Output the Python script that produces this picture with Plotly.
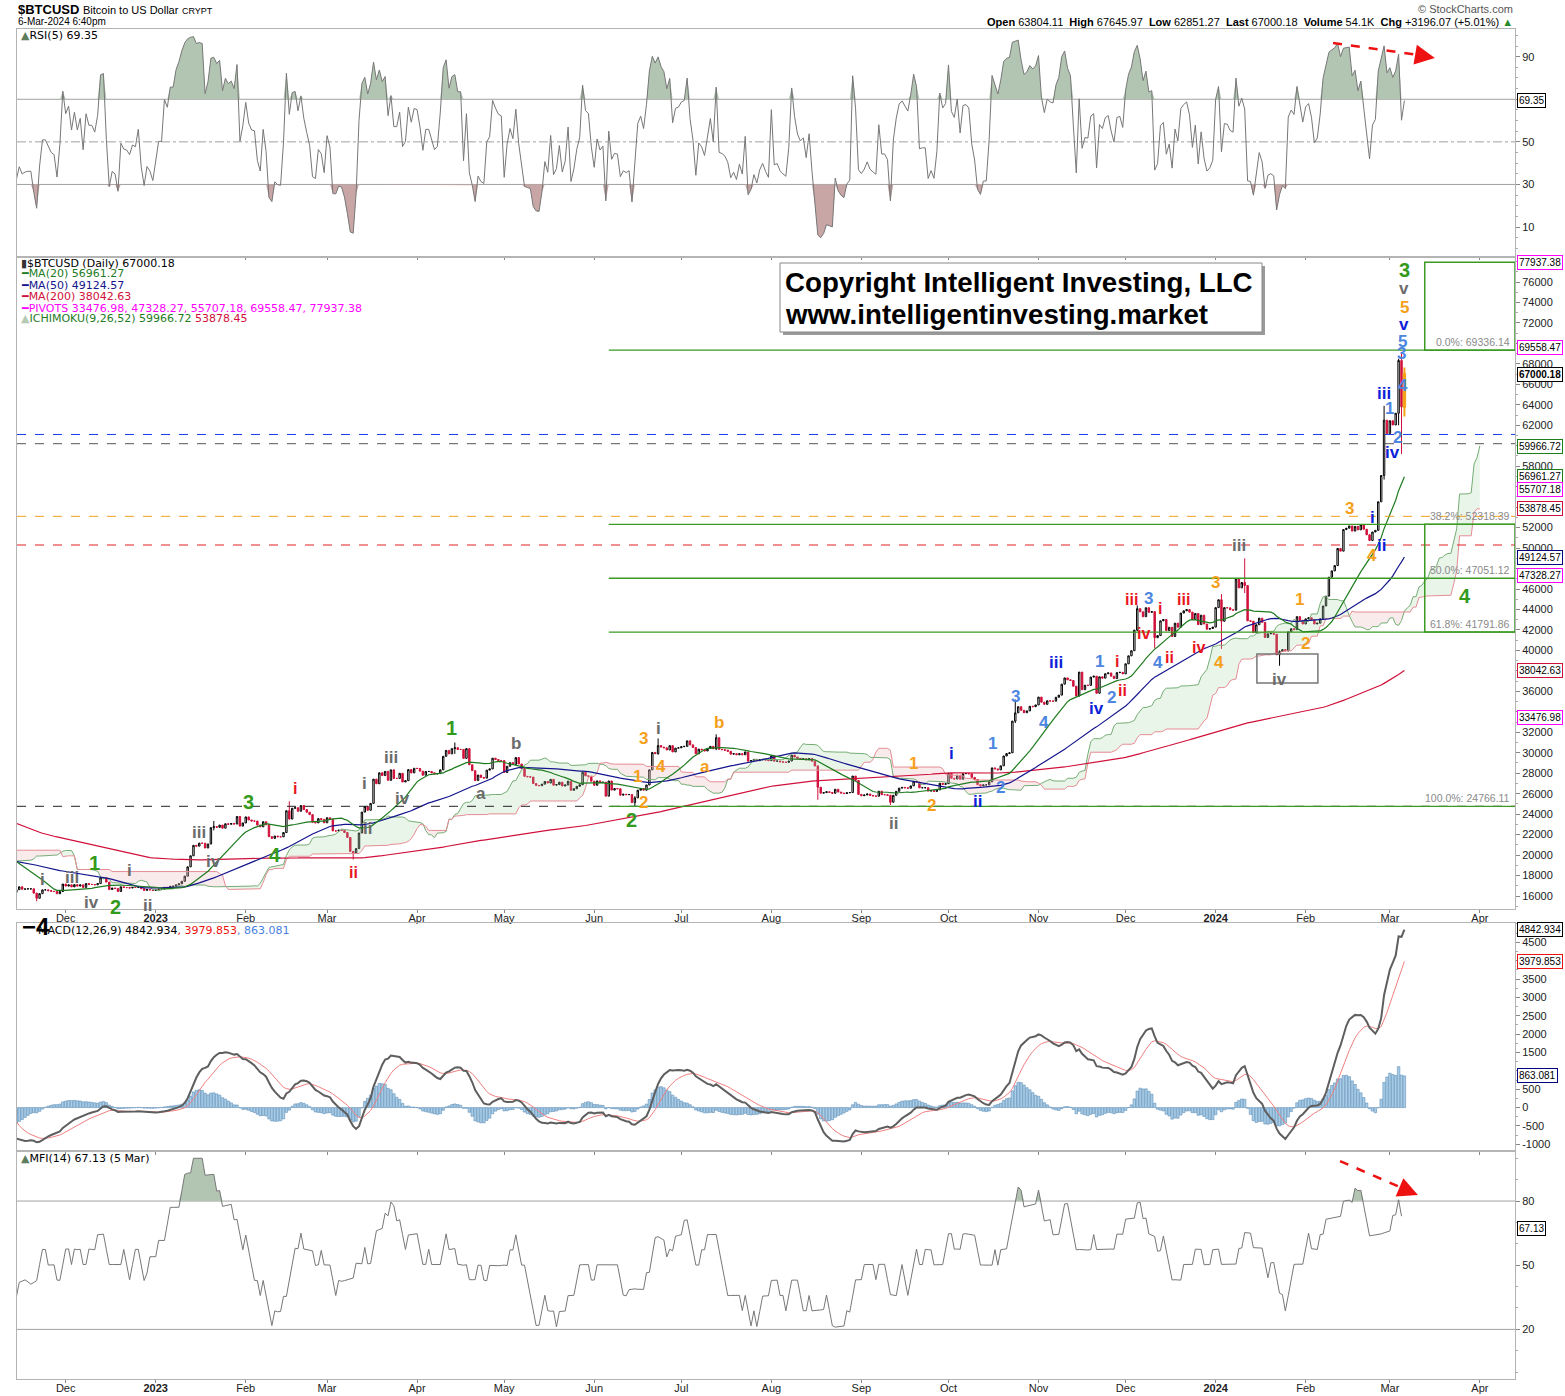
import numpy as np
import pandas as pd
import plotly.graph_objects as go

W, H = 1565, 1396

# ---------------- daily closes (BTC/USD) ----------------
close_2022_04 = [39740, 38600, 37710]  # from Apr 28
close_2022_05 = [38470, 38530, 37750, 39690, 36550, 36010, 35500, 34060, 30300, 31020,
                 28940, 29050, 29280, 30080, 31300, 29860, 30420, 28720, 30310, 29200,
                 29430, 30320, 29100, 29650, 29560, 29270, 28630, 29020, 29450, 31730, 31790]
close_2022_06 = [29800, 30450, 29700, 29860, 29910, 31370, 31130, 30210, 30110, 29080,
                 28420, 26570, 22490, 22210, 22570, 20380, 20470, 19020, 20550, 20700,
                 20030, 19960, 21090, 21230, 21500, 21030, 20730, 20280, 20100, 19780]
close_2022_07 = [19300, 19230, 19300, 20230, 20190, 20550, 21620, 21590, 21590, 20850,
                 19970, 19330, 20210, 20570, 20830, 21190, 20780, 22480, 23390, 23230,
                 23160, 22680, 22450, 22580, 21310, 21250, 22950, 23850, 23800, 23640, 23300]
close_2022_08 = [23270, 22990, 22820, 22620, 23310, 22960, 23180, 23810, 23160, 23950,
                 23940, 24400, 24440, 24310, 24130, 23850, 23340, 23210, 20830, 21160,
                 21530, 21400, 21530, 21370, 21560, 20240, 20040, 19550, 20290, 19800, 20050]
close_2022_09 = [20130, 19950, 19830, 20000, 19800, 18790, 19290, 19320, 21360, 21650,
                 21830, 22400, 20170, 20230, 19700, 19800, 20110, 19420, 19540, 18890,
                 18550, 19410, 19290, 18920, 18800, 19220, 19080, 19410, 19590, 19420]
close_2022_10 = [19310, 19040, 19620, 20340, 20160, 19960, 19530, 19420, 19440, 19130,
                 19060, 19160, 19380, 19190, 19070, 19270, 19550, 19330, 19130, 19040,
                 19170, 19210, 19570, 19330, 20090, 20770, 20290, 20600, 20810, 20630, 20490]
close_2022_11 = [20480, 20160, 20210, 21150, 21300, 20920, 20600, 18540, 15880, 17590,
                 17040, 16800, 16350, 16620, 16900, 16660, 16690, 16700, 16700, 16280,
                 15780, 16230, 16600, 16600, 16520, 16460, 16440, 16220, 16440, 17170]
close_2022_12 = [16970, 17090, 16890, 17110, 16970, 17090, 16840, 17220, 17130, 17130,
                 17090, 17210, 17780, 17810, 17360, 16630, 16780, 16740, 16440, 16900,
                 16830, 16820, 16780, 16840, 16830, 16920, 16710, 16550, 16630, 16600, 16540]
close_2023_01 = [16610, 16670, 16670, 16850, 16830, 16950, 16950, 17090, 17190, 17440,
                 17940, 18850, 19930, 20950, 20870, 21170, 21160, 20690, 21080, 22680,
                 22780, 22710, 22930, 22630, 23060, 23010, 23080, 23030, 23770, 22830, 23140]
close_2023_02 = [23730, 23430, 23330, 23320, 22930, 22760, 23260, 22960, 21800, 21630,
                 21860, 21790, 21780, 22200, 24330, 23520, 24570, 24630, 24280, 24840,
                 24450, 24190, 23950, 23200, 23150, 23560, 23490, 23150]
close_2023_03 = [23650, 23480, 22360, 22350, 22430, 22410, 22200, 21720, 20360, 20190,
                 20630, 22160, 24200, 24750, 24380, 25050, 27420, 26970, 28040, 27770,
                 28180, 27300, 28330, 27490, 27490, 27990, 27140, 27270, 28350, 28030, 28480]
close_2023_04 = [28460, 28200, 27800, 28170, 28170, 28040, 27930, 27960, 28330, 29650,
                 30230, 29890, 30400, 30490, 30320, 30320, 29450, 30400, 28820, 28250,
                 27280, 27820, 27590, 27520, 28300, 28420, 29470, 29340, 29250, 29230]
close_2023_05 = [28070, 28680, 29030, 28850, 29530, 28900, 28450, 27690, 27650, 27620,
                 26990, 26800, 26780, 26930, 27190, 27040, 27400, 26830, 26890, 27120,
                 26750, 26850, 27220, 26330, 26480, 26720, 26870, 28090, 27740, 27700, 27220]
close_2023_06 = [26820, 27250, 27070, 27120, 25760, 27240, 26350, 26500, 26480, 25850,
                 25940, 25900, 25920, 25130, 25590, 26340, 26510, 26340, 26850, 28330,
                 30030, 29910, 30700, 30550, 30480, 30270, 30690, 30080, 30450, 30480]
close_2023_07 = [30590, 30620, 31160, 30770, 30510, 29900, 30350, 30290, 30170, 30410,
                 30620, 30390, 31470, 30330, 30300, 30250, 30140, 29860, 29910, 29800,
                 29910, 29800, 30080, 29180, 29230, 29350, 29220, 29310, 29350, 29280, 29230]
close_2023_08 = [29700, 29180, 29190, 29110, 29080, 29060, 29190, 29770, 29580, 29450,
                 29400, 29420, 29300, 29430, 29170, 28700, 26630, 26050, 26100, 26190,
                 26120, 26040, 26430, 26160, 26060, 26010, 26090, 26110, 27720, 27300, 25930]
close_2023_09 = [25800, 25870, 25970, 25830, 25780, 25750, 26240, 25900, 25900, 25840,
                 25160, 25840, 26230, 26540, 26610, 26570, 26530, 26760, 27210, 27130,
                 26570, 26580, 26580, 26250, 26300, 26220, 26370, 27020, 26910, 26970]
close_2023_10 = [27990, 27500, 27430, 27800, 27410, 27950, 27970, 27940, 27590, 27390,
                 26880, 26760, 26860, 26860, 27160, 28520, 28420, 28330, 28720, 29680,
                 29920, 29990, 33090, 33900, 34500, 34150, 33910, 34090, 34540, 34500, 34670]
close_2023_11 = [35440, 34940, 34730, 35080, 35050, 35040, 35420, 35630, 36700, 37310,
                 37130, 37060, 36500, 35540, 37880, 36160, 36600, 36580, 37390, 37480,
                 35810, 37420, 37290, 37720, 37800, 37480, 37250, 37830, 37860, 37710]
close_2023_12 = [38690, 39470, 39970, 41980, 44080, 43770, 43290, 44170, 43720, 43790,
                 41240, 41450, 42890, 43020, 41940, 42260, 41360, 42660, 42270, 43650,
                 43870, 43990, 43740, 43020, 43610, 42520, 43440, 42580, 42070, 42140, 42280]
close_2024_01 = [44180, 44950, 42850, 44180, 44160, 43970, 43930, 46970, 46110, 46630,
                 46340, 42890, 42850, 41730, 42510, 43150, 42740, 41260, 41620, 41660,
                 41580, 39570, 39900, 40080, 39950, 41820, 42120, 42030, 43300, 42940, 42580]
close_2024_02 = [43080, 43190, 42990, 42580, 42660, 43090, 44340, 45300, 47150, 47770,
                 48290, 49960, 49700, 51810, 51940, 52160, 51660, 52120, 51780, 52280,
                 51840, 51300, 50740, 51570, 51730, 54520, 57090, 62500, 61200]
close_2024_03 = [62440, 62030, 63170, 68330, 63804.11, 67000.18]

month_starts = ["2022-04-28", "2022-05-01", "2022-06-01", "2022-07-01", "2022-08-01",
                "2022-09-01", "2022-10-01", "2022-11-01", "2022-12-01", "2023-01-01",
                "2023-02-01", "2023-03-01", "2023-04-01", "2023-05-01", "2023-06-01",
                "2023-07-01", "2023-08-01", "2023-09-01", "2023-10-01", "2023-11-01",
                "2023-12-01", "2024-01-01", "2024-02-01", "2024-03-01"]
month_closes = [close_2022_04, close_2022_05, close_2022_06, close_2022_07, close_2022_08,
                close_2022_09, close_2022_10, close_2022_11, close_2022_12, close_2023_01,
                close_2023_02, close_2023_03, close_2023_04, close_2023_05, close_2023_06,
                close_2023_07, close_2023_08, close_2023_09, close_2023_10, close_2023_11,
                close_2023_12, close_2024_01, close_2024_02, close_2024_03]

# notable intraday wicks
wick_dates = ["2022-11-21", "2023-01-21", "2023-02-16", "2023-03-10", "2023-04-14",
              "2023-06-15", "2023-06-23", "2023-07-13", "2023-08-17", "2023-09-11",
              "2023-10-24", "2023-12-05", "2023-12-11", "2024-01-03", "2024-01-11",
              "2024-01-23", "2024-02-28", "2024-03-04", "2024-03-05", "2024-03-06"]
wick_highs = [16280, 23330, 25250, 20340, 31000, 25750, 31400, 31800, 28770, 25880,
              35200, 44400, 43800, 45500, 49000, 40000, 63900, 68500, 69170, 67645.97]
wick_lows = [15480, 22410, 23500, 19570, 29880, 24800, 29800, 30250, 25400, 24900,
             32900, 41900, 40200, 40150, 45600, 38500, 56700, 62000, 59200, 62851.27]

# Elliott-wave labels: (text, colour group, date, price)
wave_labels = [
    ("i", "K", "2022-11-23", 17660), ("ii", "K", "2022-11-27", 14400),
    ("iii", "K", "2022-12-03", 17760), ("iv", "K", "2022-12-10", 15320),
    ("1", "G", "2022-12-11", 19230), ("2", "G", "2022-12-18", 14930),
    ("i", "K", "2022-12-23", 18540), ("ii", "K", "2022-12-29", 15120),
    ("iii", "K", "2023-01-16", 22160), ("iv", "K", "2023-01-21", 19420),
    ("3", "G", "2023-02-02", 25190), ("4", "G", "2023-02-11", 20010),
    ("i", "R", "2023-02-18", 26550), ("ii", "R", "2023-03-10", 18250),
    ("i", "K", "2023-03-14", 26950), ("ii", "K", "2023-03-15", 22550),
    ("iii", "K", "2023-03-23", 29490), ("iv", "K", "2023-03-27", 25480),
    ("1", "G", "2023-04-13", 32420), ("a", "K", "2023-04-23", 25970),
    ("b", "K", "2023-05-05", 30950), ("3", "O", "2023-06-18", 31440),
    ("i", "K", "2023-06-23", 32320), ("4", "O", "2023-06-24", 28610),
    ("1", "O", "2023-06-16", 27630), ("2", "O", "2023-06-18", 25090),
    ("2", "G", "2023-06-14", 23430), ("a", "O", "2023-07-09", 28610),
    ("b", "O", "2023-07-14", 33000), ("1", "O", "2023-09-19", 28900),
    ("2", "O", "2023-09-25", 24890), ("ii", "K", "2023-09-12", 23130),
    ("i", "B", "2023-10-02", 29880), ("ii", "B", "2023-10-11", 25280),
    ("1", "L", "2023-10-16", 30950), ("2", "L", "2023-10-19", 26650),
    ("3", "L", "2023-10-24", 35540), ("4", "L", "2023-11-03", 33000),
    ("iii", "B", "2023-11-07", 38770), ("1", "L", "2023-11-22", 38870),
    ("2", "L", "2023-11-26", 35350), ("iv", "B", "2023-11-21", 34370),
    ("i", "R", "2023-11-28", 38960), ("ii", "R", "2023-11-30", 36130),
    ("iii", "R", "2023-12-03", 45020), ("3", "L", "2023-12-09", 45120),
    ("iv", "R", "2023-12-07", 41700), ("i", "R", "2023-12-13", 44050),
    ("4", "L", "2023-12-12", 38770), ("ii", "R", "2023-12-16", 39260),
    ("iii", "R", "2023-12-21", 45020), ("iv", "R", "2023-12-26", 40240),
    ("3", "O", "2024-01-01", 46590), ("4", "O", "2024-01-02", 38770),
    ("iii", "K", "2024-01-09", 50300), ("1", "O", "2024-01-30", 45020),
    ("2", "O", "2024-02-01", 40720), ("iv", "K", "2024-01-23", 37110),
    ("3", "O", "2024-02-16", 53910), ("i", "B", "2024-02-24", 52940),
    ("4", "O", "2024-02-24", 49320), ("ii", "B", "2024-02-27", 50300),
    ("3", "G", "2024-03-06", 77170), ("v", "K", "2024-03-06", 75410),
    ("5", "O", "2024-03-06", 73460), ("v", "B", "2024-03-06", 71800),
    ("5", "L", "2024-03-05 12:00", 70140), ("3", "L", "2024-03-05", 69060),
    ("iii", "B", "2024-02-28", 65150), ("1", "L", "2024-03-01", 63590),
    ("4", "L", "2024-03-05 12:00", 65840), ("2", "L", "2024-03-03 12:00", 60760),
    ("iv", "B", "2024-03-02", 59290), ("4", "G", "2024-03-27", 45320),
]
wave_colors = {"G": "#349a1c", "K": "#6b6b6b", "R": "#e8141c", "O": "#f5a01a",
               "B": "#0b22d8", "L": "#4d86e0"}
wave_sizes = {"G": 20, "K": 17, "R": 16, "O": 17, "B": 17, "L": 17}

# horizontal reference lines (dashed, full width)
hline_levels = [61100, 60200, 53100, 50300, 24766.11]
hline_colors = ["#1a3cf0", "#555555", "#f0a020", "#e02020", "#222222"]
# Fibonacci retracement levels
fib_levels = [69336.14, 52318.39, 47051.12, 41791.86, 24766.11]
fib_labels = ["0.0%: 69336.14", "38.2%: 52318.39", "50.0%: 47051.12",
              "61.8%: 41791.86", "100.0%: 24766.11"]
fib_start = "2023-06-06"
target_boxes = [(69336.14, 77937.38), (41791.86, 52318.39)]
target_box_start = "2024-03-13"

# right-axis value tags for price panel
price_tags = [77937.38, 69558.47, 67000.18, 59966.72, 56961.27, 55707.18,
              53878.45, 49124.57, 47328.27, 38042.63, 33476.98]
price_tag_colors = ["#ff00ff", "#ff00ff", "#000000", "#1a7f1a", "#1a7f1a", "#ff00ff",
                    "#d0103a", "#000080", "#ff00ff", "#d0103a", "#ff00ff"]

# ---------------- build series ----------------
dates, closes = [], []
for st, vals in zip(month_starts, month_closes):
    dates.extend(pd.date_range(st, periods=len(vals), freq="D"))
    closes.extend(vals)
idx = pd.DatetimeIndex(dates)
c = pd.Series(closes, index=idx, dtype=float)
o = c.shift(1).fillna(c.iloc[0])
h = pd.concat([o, c], axis=1).max(axis=1)
l = pd.concat([o, c], axis=1).min(axis=1)
for d, hv, lv in zip(wick_dates, wick_highs, wick_lows):
    ts = pd.Timestamp(d)
    h[ts] = max(h[ts], hv)
    l[ts] = min(l[ts], lv)

ma20 = c.rolling(20).mean()
ma50 = c.rolling(50).mean()
ma200 = c.rolling(200).mean()

tenkan = (h.rolling(9).max() + l.rolling(9).min()) / 2
kijun = (h.rolling(26).max() + l.rolling(26).min()) / 2
spanA = (tenkan + kijun) / 2
spanB = (h.rolling(52).max() + l.rolling(52).min()) / 2
cloud_x = idx + pd.Timedelta(days=26)

delta = c.diff()
ag = delta.clip(lower=0).ewm(alpha=1 / 5, adjust=False).mean()
al = (-delta.clip(upper=0)).ewm(alpha=1 / 5, adjust=False).mean()
rsi = 100 - 100 / (1 + ag / al)

ema12 = c.ewm(span=12, adjust=False).mean()
ema26 = c.ewm(span=26, adjust=False).mean()
macd = ema12 - ema26
signal = macd.ewm(span=9, adjust=False).mean()
hist = macd - signal

tp = (h + l + c) / 3
tpd = tp.diff()
pos = tp.where(tpd > 0, 0.0)
neg = tp.where(tpd < 0, 0.0)
mfi = 100 * pos.rolling(14).sum() / (pos.rolling(14).sum() + neg.rolling(14).sum())
mfi = mfi.iloc[:-1]  # MFI shown through 5 Mar

show = idx >= pd.Timestamp("2022-11-10")
X = idx[show]

# ---------------- figure ----------------
XR = ["2022-11-14 05:30", "2024-04-13 02:00"]
XD = [17 / W, 1515 / W]


def ydom(top, bot):
    return [1 - bot / H, 1 - top / H]


fig = go.Figure()
GRID = "#b4b4b4"

# RSI panel
fig.add_trace(go.Scatter(x=X, y=[70] * len(X), mode="lines", line=dict(width=0),
                         hoverinfo="skip", xaxis="x", yaxis="y"))
fig.add_trace(go.Scatter(x=X, y=np.maximum(rsi[show], 70), mode="lines", line=dict(width=0),
                         fill="tonexty", fillcolor="#b2c5b2", xaxis="x", yaxis="y"))
fig.add_trace(go.Scatter(x=X, y=[30] * len(X), mode="lines", line=dict(width=0),
                         hoverinfo="skip", xaxis="x", yaxis="y"))
fig.add_trace(go.Scatter(x=X, y=np.minimum(rsi[show], 30), mode="lines", line=dict(width=0),
                         fill="tonexty", fillcolor="#c8a6a6", xaxis="x", yaxis="y"))
fig.add_trace(go.Scatter(x=X, y=rsi[show], mode="lines", line=dict(color="#777777", width=1),
                         xaxis="x", yaxis="y"))

# Ichimoku cloud
cshow = cloud_x >= pd.Timestamp("2022-11-05")
CX = cloud_x[cshow]
A = spanA[cshow].values
B = spanB[cshow].values
n = len(A)
i = 0
while i < n:
    if np.isnan(A[i]) or np.isnan(B[i]):
        i += 1
        continue
    up = A[i] >= B[i]
    j = i
    while j + 1 < n and (A[j + 1] >= B[j + 1]) == up:
        j += 1
    k = min(j + 1, n - 1)
    fig.add_trace(go.Scatter(x=CX[i:k + 1], y=B[i:k + 1], mode="lines", line=dict(width=0),
                             hoverinfo="skip", xaxis="x2", yaxis="y2"))
    fig.add_trace(go.Scatter(x=CX[i:k + 1], y=A[i:k + 1], mode="lines", line=dict(width=0),
                             fill="tonexty",
                             fillcolor="rgba(160,210,160,0.22)" if up else "rgba(235,180,185,0.28)",
                             hoverinfo="skip", xaxis="x2", yaxis="y2"))
    i = j + 1
fig.add_trace(go.Scatter(x=CX, y=A, mode="lines", line=dict(color="#74ad74", width=1),
                         xaxis="x2", yaxis="y2"))
fig.add_trace(go.Scatter(x=CX, y=B, mode="lines", line=dict(color="#e58d94", width=1),
                         xaxis="x2", yaxis="y2"))

# moving averages
fig.add_trace(go.Scatter(x=X, y=ma200[show], mode="lines", line=dict(color="#d0103a", width=1.2),
                         xaxis="x2", yaxis="y2"))
fig.add_trace(go.Scatter(x=X, y=ma50[show], mode="lines", line=dict(color="#14148c", width=1.2),
                         xaxis="x2", yaxis="y2"))
fig.add_trace(go.Scatter(x=X, y=ma20[show], mode="lines", line=dict(color="#1e7b1e", width=1.2),
                         xaxis="x2", yaxis="y2"))

# candles
body = show & (idx < idx[-1])
fig.add_trace(go.Candlestick(
    x=idx[body], open=o[body], high=h[body], low=l[body], close=c[body],
    increasing=dict(line=dict(color="#000000", width=1), fillcolor="#ffffff"),
    decreasing=dict(line=dict(color="#d0103a", width=1), fillcolor="#d0103a"),
    whiskerwidth=0, xaxis="x2", yaxis="y2"))
last = idx >= idx[-1]
fig.add_trace(go.Candlestick(
    x=idx[last], open=o[last], high=h[last], low=l[last], close=c[last],
    increasing=dict(line=dict(color="#f5a31a", width=2), fillcolor="#111111"),
    decreasing=dict(line=dict(color="#f5a31a", width=2), fillcolor="#111111"),
    whiskerwidth=0, xaxis="x2", yaxis="y2"))

# MACD
fig.add_trace(go.Bar(x=X, y=hist[show], marker=dict(color="#a9cde6", line=dict(color="#5e8fb8", width=0.6)),
                     xaxis="x3", yaxis="y3"))
fig.add_trace(go.Scatter(x=X, y=signal[show], mode="lines", line=dict(color="#f07f7f", width=1),
                         xaxis="x3", yaxis="y3"))
fig.add_trace(go.Scatter(x=X, y=macd[show], mode="lines", line=dict(color="#5e5e5e", width=2),
                         xaxis="x3", yaxis="y3"))

# MFI
MX = mfi.index[mfi.index >= pd.Timestamp("2022-11-10")]
mv = mfi[MX]
fig.add_trace(go.Scatter(x=MX, y=[80] * len(MX), mode="lines", line=dict(width=0),
                         hoverinfo="skip", xaxis="x4", yaxis="y4"))
fig.add_trace(go.Scatter(x=MX, y=np.maximum(mv, 80), mode="lines", line=dict(width=0),
                         fill="tonexty", fillcolor="#b2c5b2", xaxis="x4", yaxis="y4"))
fig.add_trace(go.Scatter(x=MX, y=[20] * len(MX), mode="lines", line=dict(width=0),
                         hoverinfo="skip", xaxis="x4", yaxis="y4"))
fig.add_trace(go.Scatter(x=MX, y=np.minimum(mv, 20), mode="lines", line=dict(width=0),
                         fill="tonexty", fillcolor="#c8a6a6", xaxis="x4", yaxis="y4"))
fig.add_trace(go.Scatter(x=MX, y=mv, mode="lines", line=dict(color="#777777", width=1),
                         xaxis="x4", yaxis="y4"))

# ---------------- axes ----------------
tick_dates = pd.date_range("2022-12-01", "2024-04-01", freq="MS")
tick_text = [("<b>%d</b>" % d.year) if d.month == 1 else d.strftime("%b") for d in tick_dates]
TF = dict(family="Liberation Sans, Arial", size=11, color="#222222")


def xax(anchor, labels):
    return dict(domain=XD, range=XR, anchor=anchor, showgrid=False, zeroline=False,
                showline=True, mirror=True, linecolor=GRID, linewidth=1,
                tickvals=tick_dates, ticktext=tick_text if labels else [""] * len(tick_dates),
                ticks="outside", ticklen=3, tickcolor="#888", tickfont=TF,
                ticklabelstandoff=-4, rangeslider=dict(visible=False))


def yax(anchor, dom, rng, tv, tt, minor_dtick):
    return dict(domain=dom, range=rng, anchor=anchor, side="right", showgrid=False,
                zeroline=False, showline=True, mirror=True, linecolor=GRID, linewidth=1,
                tickvals=tv, ticktext=tt, ticks="outside", ticklen=4, tickcolor="#888",
                tickfont=TF, minor=dict(ticks="outside", ticklen=2, dtick=minor_dtick,
                                        tickcolor="#aaa"))


price_ticks = list(range(16000, 76001, 2000))
price_text = ["" if v in (70000, 60000, 56000, 54000, 48000, 38000, 34000) else str(v)
              for v in price_ticks]
macd_ticks = list(range(-1000, 4501, 500))
macd_text = ["" if v in (1000, 4000) else str(v) for v in macd_ticks]

fig.update_layout(
    width=W, height=H, margin=dict(l=0, r=0, t=0, b=0),
    paper_bgcolor="white", plot_bgcolor="white", showlegend=False, bargap=0.15,
    xaxis=xax("y", False), xaxis2=xax("y2", True), xaxis3=xax("y3", False), xaxis4=xax("y4", True),
    yaxis=yax("x", ydom(29, 256), [-3.6, 103.0], [10, 30, 50, 70, 90], ["10", "30", "50", "", "90"], 5),
    yaxis2=yax("x2", ydom(258, 909), [14730, 78345], price_ticks, price_text, 1000),
    yaxis3=yax("x3", ydom(923, 1151), [-1182, 5025], macd_ticks, macd_text, 250),
    yaxis4=yax("x4", ydom(1151, 1379), [-3.2, 103.4], [20, 50, 80], ["20", "50", "80"], 10),
)

shapes = []
# RSI guide lines
for v, dash in [(70, "solid"), (30, "solid"), (50, "dashdot")]:
    shapes.append(dict(type="line", xref="x", yref="y", x0=XR[0], x1=XR[1], y0=v, y1=v,
                       line=dict(color="#a0a0a0", width=1, dash=dash), layer="below"))
for v in (80, 20):
    shapes.append(dict(type="line", xref="x4", yref="y4", x0=XR[0], x1=XR[1], y0=v, y1=v,
                       line=dict(color="#a0a0a0", width=1), layer="below"))
# dashed horizontal lines on price
for v, col in zip(hline_levels, hline_colors):
    shapes.append(dict(type="line", xref="x2", yref="y2", x0=XR[0], x1=XR[1], y0=v, y1=v,
                       line=dict(color=col, width=1, dash="dash")))
# fib lines
for v in fib_levels:
    shapes.append(dict(type="line", xref="x2", yref="y2", x0=fib_start, x1=XR[1], y0=v, y1=v,
                       line=dict(color="#3a9a22", width=1.3)))
for y0, y1 in target_boxes:
    shapes.append(dict(type="rect", xref="x2", yref="y2", x0=target_box_start, x1=XR[1],
                       y0=y0, y1=y1, line=dict(color="#3a9a22", width=1.5)))
# iv box
shapes.append(dict(type="rect", xref="x2", yref="y2", x0="2024-01-15 05:00", x1="2024-02-05 05:00",
                   y0=36815, y1=39650, line=dict(color="#777777", width=1.5)))
# copyright box with shadow
shapes.append(dict(type="rect", xref="paper", yref="paper", x0=783 / W, x1=1265 / W,
                   y0=1 - 335 / H, y1=1 - 266 / H, fillcolor="#9a9a9a", line=dict(width=0)))
shapes.append(dict(type="rect", xref="paper", yref="paper", x0=780 / W, x1=1262 / W,
                   y0=1 - 332 / H, y1=1 - 263 / H, fillcolor="white",
                   line=dict(color="#888888", width=1)))
# red divergence arrows (dashed shafts)
shapes.append(dict(type="line", xref="x", yref="y", x0="2024-02-10 10:00", y0=96.4,
                   x1="2024-03-12", y1=90.6, line=dict(color="#ee1111", width=2.5, dash="dash")))
shapes.append(dict(type="line", xref="x4", yref="y4", x0="2024-02-12 20:00", y0=98.7,
                   x1="2024-03-07", y1=85.0, line=dict(color="#ee1111", width=2.5, dash="dash")))

ann = []
for txt, g, d, p in wave_labels:
    ann.append(dict(x=d, y=p, xref="x2", yref="y2", text="<b>%s</b>" % txt, showarrow=False,
                    font=dict(family="Liberation Sans, Arial", size=wave_sizes[g], color=wave_colors[g])))
for v, t in zip(fib_levels, fib_labels):
    ann.append(dict(x=1512 / W, y=v, xref="paper", yref="y2", text=t, showarrow=False,
                    xanchor="right", yanchor="bottom", yshift=0,
                    font=dict(family="Liberation Sans, Arial", size=10.5, color="#8a8a8a")))


def tag(v, yref, col, txt, bold=False):
    return dict(x=1517 / W, y=v, xref="paper", yref=yref, xanchor="left", yanchor="middle",
                text=("<b>%s</b>" % txt) if bold else txt, showarrow=False,
                bordercolor=col, borderwidth=1, borderpad=1, bgcolor="white",
                font=dict(family="Liberation Sans, Arial", size=10, color="#000000"))


for v, col in zip(price_tags, price_tag_colors):
    ann.append(tag(v, "y2", col, "%.2f" % v, bold=(v == 67000.18)))
ann.append(tag(69.35, "y", "#000000", "69.35"))
ann.append(tag(4842.934, "y3", "#000000", "4842.934"))
ann.append(tag(3979.853, "y3", "#ee1111", "3979.853"))
ann.append(tag(863.081, "y3", "#000080", "863.081"))
ann.append(tag(67.13, "y4", "#000000", "67.13"))

# arrow heads
ann.append(dict(x="2024-03-16 12:00", y=89.4, xref="x", yref="y", ax="2024-03-10", ay=90.9,
                axref="x", ayref="y", text="", showarrow=True, arrowhead=2, arrowsize=1.6,
                arrowwidth=2.5, arrowcolor="#ee1111"))
ann.append(dict(x="2024-03-10 16:00", y=82.8, xref="x4", yref="y4", ax="2024-03-05", ay=86.0,
                axref="x4", ayref="y4", text="", showarrow=True, arrowhead=2, arrowsize=1.6,
                arrowwidth=2.5, arrowcolor="#ee1111"))

V = "DejaVu Sans, Verdana"
A_ = "Liberation Sans, Arial"


def ptxt(x, y, text, size=10, fam=V, col="#000", xa="left"):
    return dict(x=x / W, y=1 - y / H, xref="paper", yref="paper", text=text, showarrow=False,
                xanchor=xa, yanchor="middle", font=dict(family=fam, size=size, color=col))


ann.append(ptxt(16, 9, "<b>$BTCUSD</b> <span style='font-size:11px'>Bitcoin to US Dollar</span> "
                       "<span style='font-size:9px'>CRYPT</span>", size=13, fam=A_))
ann.append(ptxt(16, 22, "6-Mar-2024 6:40pm", size=10, fam=A_))
ann.append(ptxt(1515, 9, "© StockCharts.com", size=11, fam=A_, col="#555", xa="right"))
ann.append(ptxt(1515, 22, "<b>Open</b> 63804.11  <b>High</b> 67645.97  <b>Low</b> 62851.27  "
                          "<b>Last</b> 67000.18  <b>Volume</b> 54.1K  <b>Chg</b> +3196.07 (+5.01%) "
                          "<span style='color:#2a8a2a'>▲</span>", size=11, fam=A_, xa="right"))
ann.append(ptxt(19, 35, "<span style='color:#5d7d5d'>▲</span>RSI(5) 69.35", size=11))
ann.append(ptxt(19, 263, "<span style='color:#333'>▮</span>$BTCUSD (Daily) 67000.18", size=11))
ann.append(ptxt(19, 274, "<b>━</b>MA(20) 56961.27", size=11, col="#1e7b1e"))
ann.append(ptxt(19, 285, "<b>━</b>MA(50) 49124.57", size=11, col="#14148c"))
ann.append(ptxt(19, 296, "<b>━</b>MA(200) 38042.63", size=11, col="#d0103a"))
ann.append(ptxt(19, 308, "<b>━</b>PIVOTS 33476.98, 47328.27, 55707.18, 69558.47, 77937.38", size=11, col="#ff00ff"))
ann.append(ptxt(19, 319, "<span style='color:#b5c9b5'>▲</span>ICHIMOKU(9,26,52) 59966.72 "
                         "<span style='color:#d0103a'>53878.45</span>", size=11, col="#1e7b1e"))
ann.append(ptxt(36, 930, "MACD(12,26,9) 4842.934<span style='color:#ee1111'>, 3979.853</span>"
                         "<span style='color:#4a7fe0'>, 863.081</span>", size=11))
ann.append(ptxt(20, 926, "<b>−4</b>", size=24, fam=A_))
ann.append(ptxt(19, 1158, "<span style='color:#5d7d5d'>▲</span>MFI(14) 67.13 (5 Mar)", size=11))
ann.append(ptxt(783, 282, "<b>Copyright Intelligent Investing, LLC</b>", size=27.7, fam=A_))
ann.append(ptxt(783, 314, "<b>www.intelligentinvesting.market</b>", size=27.7, fam=A_))

fig.update_layout(shapes=shapes, annotations=ann)
fig.write_html("out.html")
